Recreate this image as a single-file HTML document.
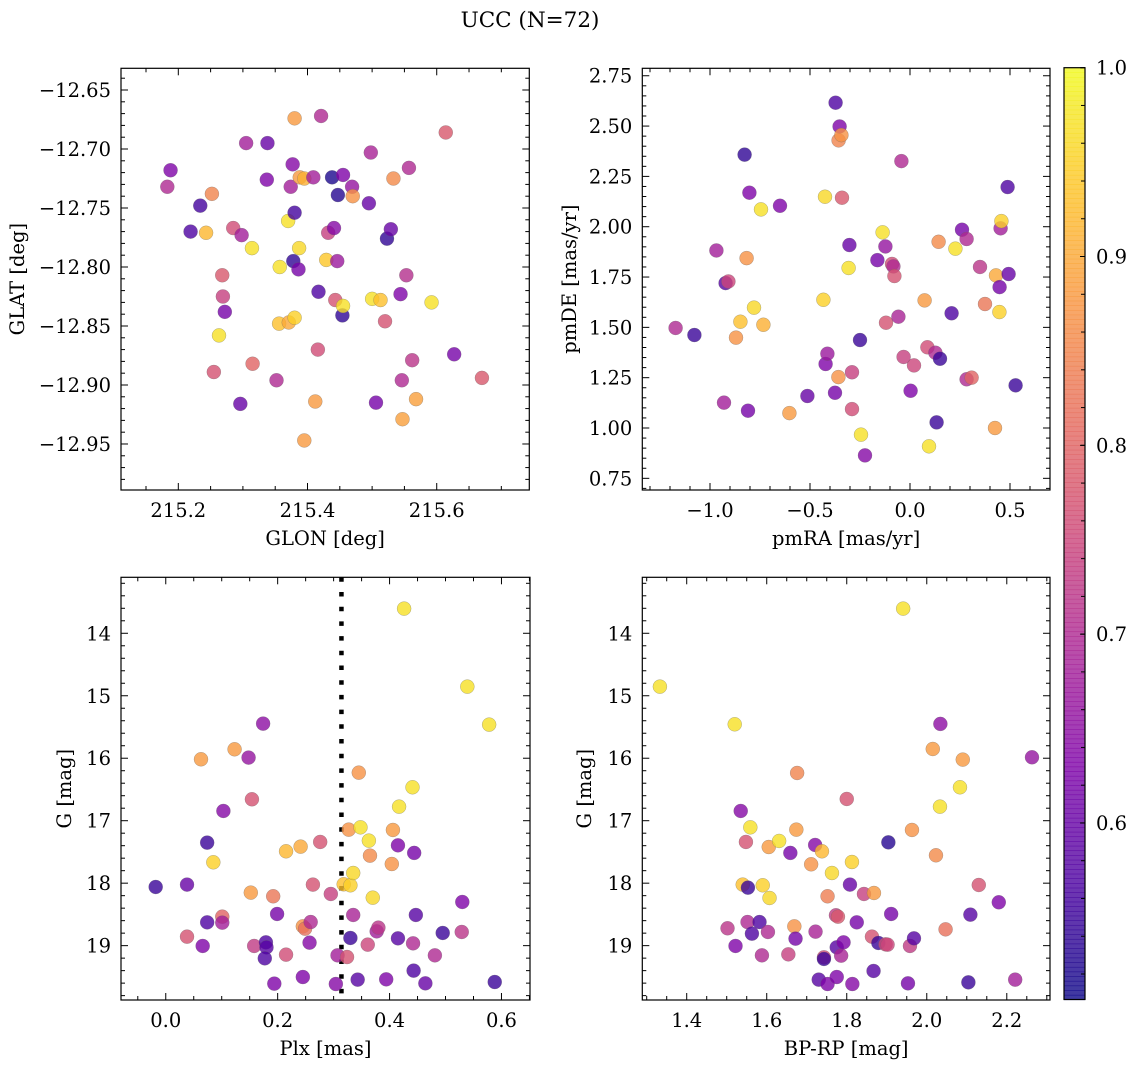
<!DOCTYPE html>
<html><head><meta charset="utf-8"><title>UCC (N=72)</title>
<style>
html,body{margin:0;padding:0;background:#fff;}
svg{display:block;font-family:"DejaVu Serif","Liberation Serif",serif;}
</style></head>
<body>
<svg id="fig" xmlns="http://www.w3.org/2000/svg" width="1136" height="1067" viewBox="0 0 1136 1067">
<rect x="0" y="0" width="1136" height="1067" fill="#fff"/>
<text x="530" y="27" text-anchor="middle" font-size="21.5">UCC (N=72)</text>
</svg>
<script>
// ---- Panel 1: GLON vs GLAT ----
const glon1 = [215.183,215.188,215.219,215.234,215.243,215.252,215.255,215.263,215.268,215.269,215.272,215.285,215.298,215.296,215.305,215.314,215.315,215.338,215.337,215.352,215.357,215.356,215.371,215.380,215.370,215.374,215.377,215.380,215.378,215.380,215.386,215.387,215.388,215.395,215.395,215.409,215.412,215.416,215.417,215.421,215.429,215.432,215.438,215.441,215.443,215.446,215.447,215.454,215.455,215.455,215.469,215.470,215.495,215.498,215.500,215.513,215.506,215.520,215.523,215.529,215.533,215.544,215.546,215.547,215.553,215.557,215.562,215.568,215.592,215.614,215.627,215.670];
const glat1 = [-12.732,-12.718,-12.770,-12.748,-12.771,-12.738,-12.889,-12.858,-12.807,-12.825,-12.838,-12.767,-12.773,-12.916,-12.695,-12.784,-12.882,-12.695,-12.726,-12.896,-12.800,-12.848,-12.847,-12.843,-12.761,-12.732,-12.713,-12.754,-12.795,-12.674,-12.802,-12.784,-12.724,-12.725,-12.947,-12.724,-12.914,-12.870,-12.821,-12.672,-12.794,-12.771,-12.724,-12.767,-12.828,-12.795,-12.739,-12.841,-12.833,-12.722,-12.732,-12.740,-12.746,-12.703,-12.827,-12.828,-12.915,-12.846,-12.776,-12.768,-12.725,-12.823,-12.896,-12.929,-12.807,-12.716,-12.879,-12.912,-12.830,-12.686,-12.874,-12.894];
const prob1 = [.70,.63,.57,.56,.92,.85,.77,.97,.78,.74,.62,.76,.68,.60,.68,.97,.80,.60,.63,.70,.97,.93,.90,.95,.97,.68,.64,.56,.54,.88,.62,.96,.88,.91,.88,.68,.88,.76,.57,.70,.94,.74,.52,.64,.77,.67,.53,.54,.97,.63,.66,.87,.60,.69,.97,.93,.62,.77,.54,.60,.86,.63,.70,.89,.71,.70,.72,.89,.97,.78,.62,.78];
// ---- Panel 2: pmRA vs pmDE ----
const pmra2 = [-1.172,-1.078,-0.968,-0.930,-0.922,-0.908,-0.870,-0.848,-0.827,-0.817,-0.810,-0.803,-0.780,-0.745,-0.733,-0.650,-0.603,-0.513,-0.433,-0.425,-0.422,-0.413,-0.375,-0.372,-0.357,-0.352,-0.343,-0.358,-0.340,-0.307,-0.303,-0.290,-0.290,-0.250,-0.245,-0.225,-0.163,-0.137,-0.123,-0.120,-0.090,-0.083,-0.078,-0.058,-0.043,-0.032,0.003,0.020,0.073,0.087,0.127,0.133,0.150,0.143,0.208,0.227,0.260,0.283,0.283,0.308,0.095,0.350,0.375,0.425,0.430,0.448,0.453,0.457,0.447,0.488,0.493,0.528];
const pmde2 = [1.497,1.462,1.882,1.126,1.720,1.728,1.449,1.528,2.358,1.844,1.086,2.169,1.598,2.086,1.513,2.104,1.074,1.159,1.637,2.149,1.318,1.369,1.175,2.616,2.429,2.498,2.455,1.253,2.144,1.795,1.909,1.277,1.094,1.437,0.967,0.864,1.834,1.972,1.902,1.523,1.815,1.803,1.755,1.553,2.326,1.353,1.185,1.311,1.634,1.401,1.374,1.028,1.344,1.925,1.570,1.891,1.985,1.939,1.242,1.250,0.909,1.800,1.616,1.000,1.758,1.700,1.992,2.028,1.576,2.197,1.765,1.212];
const prob2 = [.70,.55,.68,.68,.58,.75,.87,.93,.54,.87,.62,.63,.96,.97,.91,.63,.88,.60,.95,.96,.63,.67,.62,.57,.85,.63,.87,.87,.78,.97,.60,.74,.76,.55,.97,.64,.62,.97,.66,.77,.76,.70,.77,.69,.70,.74,.63,.75,.88,.76,.70,.55,.55,.86,.57,.97,.62,.70,.70,.80,.97,.72,.83,.88,.90,.62,.68,.95,.95,.57,.60,.55];
// ---- Panel 3: Plx vs G ----
const plx3 = [-0.018,0.038,0.038,0.063,0.066,0.074,0.074,0.085,0.101,0.101,0.103,0.123,0.148,0.152,0.154,0.158,0.174,0.179,0.180,0.177,0.192,0.194,0.199,0.215,0.215,0.241,0.245,0.245,0.249,0.257,0.259,0.263,0.276,0.295,0.304,0.307,0.318,0.324,0.327,0.330,0.330,0.335,0.335,0.343,0.345,0.348,0.361,0.363,0.365,0.370,0.377,0.380,0.394,0.404,0.406,0.415,0.415,0.417,0.426,0.441,0.442,0.443,0.444,0.447,0.464,0.481,0.495,0.529,0.530,0.539,0.578,0.588];
const gmag3 = [18.061,18.023,18.856,16.017,19.005,17.351,18.627,17.666,18.536,18.632,16.844,15.857,15.990,18.151,16.657,19.005,15.446,18.947,19.027,19.203,18.210,19.608,18.493,17.490,19.144,17.415,19.502,18.691,18.728,18.952,18.622,18.023,17.340,18.173,19.614,19.155,18.018,19.182,17.143,18.034,18.877,17.837,18.509,19.544,16.231,17.106,18.984,17.319,17.559,18.232,18.771,18.712,19.539,17.693,17.148,18.883,17.394,16.775,13.605,16.465,18.963,19.400,17.516,18.509,19.603,19.155,18.797,18.781,18.301,14.854,15.462,19.582];
const prob3 = [.55,.60,.77,.88,.63,.55,.57,.95,.80,.68,.64,.88,.66,.88,.77,.73,.65,.57,.58,.57,.83,.63,.62,.92,.76,.90,.63,.87,.82,.64,.70,.77,.77,.74,.64,.68,.93,.77,.87,.95,.55,.96,.69,.58,.87,.97,.75,.97,.86,.96,.68,.72,.63,.87,.88,.58,.63,.97,.97,.97,.70,.57,.62,.58,.60,.70,.55,.72,.63,.97,.97,.55];
const plxCut = 0.314;
// ---- Panel 4: BP-RP vs G ----
const bprp4 = [1.333,1.502,1.520,1.522,1.535,1.540,1.548,1.553,1.552,1.559,1.563,1.582,1.588,1.590,1.603,1.605,1.607,1.631,1.654,1.659,1.669,1.672,1.676,1.674,1.711,1.721,1.722,1.730,1.738,1.743,1.743,1.752,1.752,1.763,1.773,1.778,1.775,1.775,1.786,1.792,1.800,1.808,1.813,1.814,1.825,1.843,1.863,1.868,1.867,1.879,1.897,1.902,1.904,1.911,1.941,1.953,1.958,1.963,1.968,2.015,2.023,2.033,2.034,2.047,2.083,2.090,2.104,2.109,2.130,2.180,2.221,2.263];
const gmag4 = [14.854,18.722,15.457,19.005,16.844,18.023,17.340,18.072,18.622,17.106,18.808,18.622,19.155,18.034,18.781,17.421,18.237,17.324,19.139,17.516,18.691,18.888,16.236,17.143,17.698,17.388,18.776,19.544,17.490,19.187,19.213,19.614,18.210,17.837,18.514,18.536,19.502,19.027,19.160,18.947,16.652,18.023,17.661,19.614,18.627,18.173,18.856,18.157,19.405,18.957,18.979,18.984,17.346,18.493,13.605,19.603,19.005,17.148,18.883,15.852,17.554,16.775,15.451,18.739,16.465,16.022,19.587,18.504,18.029,18.306,19.544,15.985];
const prob4 = [.97,.72,.97,.63,.64,.93,.77,.55,.70,.97,.57,.57,.70,.95,.70,.88,.96,.97,.74,.62,.87,.62,.85,.88,.87,.64,.69,.58,.92,.76,.55,.63,.84,.96,.73,.78,.63,.58,.69,.63,.77,.60,.95,.64,.62,.74,.77,.88,.58,.55,.76,.75,.53,.62,.97,.62,.73,.87,.58,.88,.86,.97,.65,.82,.97,.88,.55,.58,.77,.63,.68,.66];
// ---- Tick labels / colorbar ----
const p1xTicks = [215.2,215.4,215.6];
const p1yTicks = [-12.65,-12.70,-12.75,-12.80,-12.85,-12.90,-12.95];
const p2xTicks = [-1.0,-0.5,0.0,0.5];
const p2yTicks = [0.75,1.00,1.25,1.50,1.75,2.00,2.25,2.50,2.75];
const p3xTicks = [0.0,0.2,0.4,0.6];
const gTicks = [14,15,16,17,18,19];
const p4xTicks = [1.4,1.6,1.8,2.0,2.2];
const cbTicks = [0.6,0.7,0.8,0.9,1.0];
const vmin = 0.5065, vmax = 1.0;

const NS = "http://www.w3.org/2000/svg";
const svg = document.getElementById('fig');
function el(tag, attrs, parent){
  const e = document.createElementNS(NS, tag);
  for (const k in attrs) e.setAttribute(k, attrs[k]);
  (parent||svg).appendChild(e);
  return e;
}
const stops = [[13,8,135],[76,2,161],[126,3,168],[169,35,149],[204,71,120],[230,108,92],[248,149,64],[253,197,39],[240,249,33]];
function plasma(t){
  t = Math.max(0, Math.min(1, t));
  const s = t*(stops.length-1), i = Math.min(stops.length-2, Math.floor(s)), f = s - i;
  const a = stops[i], b = stops[i+1];
  return 'rgb(' + [0,1,2].map(k => Math.round(a[k] + (b[k]-a[k])*f)).join(',') + ')';
}
function fmt(v, d){ return (v < 0 ? '\u2212' : '') + Math.abs(v).toFixed(d); }
const TICKFS = 19.5, LABFS = 19.5;

function panel(cfg){
  const g = el('g', {});
  
  
  const {l,t,r,b} = cfg;
  const xs = v => l + (v - cfg.xd[0]) / (cfg.xd[1] - cfg.xd[0]) * (r - l);
  const ys = v => b - (v - cfg.yd[0]) / (cfg.yd[1] - cfg.yd[0]) * (b - t);
  const cid = 'clip-' + cfg.name;
  const cp = el('clipPath', {id: cid}, g);
  el('rect', {x:l, y:t, width:r-l, height:b-t}, cp);
  const pts = el('g', {'clip-path': 'url(#' + cid + ')'}, g);
  
  
  if (cfg.vline !== undefined) {
    const ln = el('line', {x1: xs(cfg.vline), x2: xs(cfg.vline), y1: t, y2: b, stroke: '#000', 'stroke-width': 4.5, 'stroke-dasharray': '4.5 10.2'}, pts);
    
    
  }
  for (let i = 0; i < cfg.X.length; i++) {
    const c = el('circle', {cx: xs(cfg.X[i]), cy: ys(cfg.Y[i]), r: 7, fill: plasma((cfg.P[i]-vmin)/(vmax-vmin)), 'fill-opacity': 0.8, stroke: '#666', 'stroke-opacity': 0.5, 'stroke-width': 0.5}, pts);
    
    
  }
  el('rect', {x:l, y:t, width:r-l, height:b-t, fill:'none', stroke:'#000', 'stroke-width':1.2}, g);
  const tk = el('g', {stroke:'#000', 'stroke-width':1}, g);
  const minorList = (d, step, majors) => {
    const lo = Math.min(d[0], d[1]), hi = Math.max(d[0], d[1]), out = [];
    for (let k = Math.ceil(lo/step - 1e-9); k*step <= hi + 1e-9; k++) {
      const v = k*step;
      if (!majors.some(m => Math.abs(m - v) < step*0.01)) out.push(v);
    }
    return out;
  };
  const xMin = minorList(cfg.xd, cfg.xminor, cfg.xt), yMin = minorList(cfg.yd, cfg.yminor, cfg.yt);
  cfg.xt.forEach(v => { const x = xs(v); el('line',{x1:x,x2:x,y1:b,y2:b-7},tk); el('line',{x1:x,x2:x,y1:t,y2:t+7},tk); });
  xMin.forEach(v => { const x = xs(v); el('line',{x1:x,x2:x,y1:b,y2:b-4},tk); el('line',{x1:x,x2:x,y1:t,y2:t+4},tk); });
  cfg.yt.forEach(v => { const y = ys(v); el('line',{x1:l,x2:l+7,y1:y,y2:y},tk); el('line',{x1:r,x2:r-7,y1:y,y2:y},tk); });
  yMin.forEach(v => { const y = ys(v); el('line',{x1:l,x2:l+4,y1:y,y2:y},tk); el('line',{x1:r,x2:r-4,y1:y,y2:y},tk); });
  cfg.xt.forEach(v => {
    const tx = el('text', {x: xs(v), y: b + 27, 'text-anchor':'middle', 'font-size':TICKFS}, g);
    
    
    tx.textContent = fmt(v, cfg.xdec);
  });
  cfg.yt.forEach(v => {
    const tx = el('text', {x: l - 10, y: ys(v) + 7, 'text-anchor':'end', 'font-size':TICKFS}, g);
    
    
    tx.textContent = fmt(v, cfg.ydec);
  });
  const xl = el('text', {x: (l+r)/2, y: b + 55, 'text-anchor':'middle', 'font-size':LABFS}, g);
  
  
  xl.textContent = cfg.xlabel;
  const yl = el('text', {x: 0, y: 0, 'text-anchor':'middle', 'font-size':LABFS, transform: 'translate(' + cfg.ylx + ',' + ((t+b)/2) + ') rotate(-90)'}, g);
  
  
  yl.textContent = cfg.ylabel;
}

panel({name:'glon-glat-panel', l:121, t:68.3, r:529.3, b:490, xd:[215.1113,215.7433], yd:[-12.989,-12.6316],
  X:glon1, Y:glat1, P:prob1, xt:p1xTicks, yt:p1yTicks, xminor:0.05, yminor:0.01, xdec:1, ydec:2,
  xlabel:'GLON [deg]', ylabel:'GLAT [deg]', ylx:24});
panel({name:'pmra-pmde-panel', l:642.3, t:68.3, r:1050, b:490, xd:[-1.3385,0.70], yd:[0.692,2.787],
  X:pmra2, Y:pmde2, P:prob2, xt:p2xTicks, yt:p2yTicks, xminor:0.1, yminor:0.05, xdec:1, ydec:2,
  xlabel:'pmRA [mas/yr]', ylabel:'pmDE [mas/yr]', ylx:576});
panel({name:'plx-g-panel', l:121, t:577.3, r:530, b:1000, xd:[-0.080,0.651], yd:[19.870,13.104],
  X:plx3, Y:gmag3, P:prob3, xt:p3xTicks, yt:gTicks, xminor:0.05, yminor:0.2, xdec:1, ydec:0,
  xlabel:'Plx [mas]', ylabel:'G [mag]', ylx:71, vline:plxCut});
panel({name:'bprp-g-panel', l:642.3, t:577.3, r:1050, b:1000, xd:[1.289,2.308], yd:[19.870,13.104],
  X:bprp4, Y:gmag4, P:prob4, xt:p4xTicks, yt:gTicks, xminor:0.05, yminor:0.2, xdec:1, ydec:0,
  xlabel:'BP-RP [mag]', ylabel:'G [mag]', ylx:591});

(function(){
  const cb = el('g', {});
  
  
  const l = 1064, r = 1085, t = 67.7, b = 999.5, N = 200;
  for (let i = 0; i < N; i++) {
    const y0 = b - (i/N)*(b-t), y1 = b - ((i+1)/N)*(b-t);
    el('rect', {x:l, y:y1, width:r-l, height:(y0-y1)+0.6, fill: plasma((i+0.5)/N), 'fill-opacity':0.8}, cb);
  }
  el('rect', {x:l, y:t, width:r-l, height:b-t, fill:'none', stroke:'#000', 'stroke-width':1.2}, cb);
  const ys = v => b - (v - vmin)/(vmax - vmin)*(b - t);
  for (let k = 26; k <= 50; k++) {
    const v = k*0.02; if (v < vmin) continue;
    el('line', {x1:r-4, x2:r, y1:ys(v), y2:ys(v), stroke:'#000', 'stroke-width':1}, cb);
  }
  cbTicks.forEach(v => {
    el('line', {x1:r-5, x2:r, y1:ys(v), y2:ys(v), stroke:'#000', 'stroke-width':1}, cb);
    const tx = el('text', {x: r + 11, y: ys(v) + 7, 'font-size':TICKFS}, cb);
    
    
    tx.textContent = v.toFixed(1);
  });
})();
</script>
</body></html>
